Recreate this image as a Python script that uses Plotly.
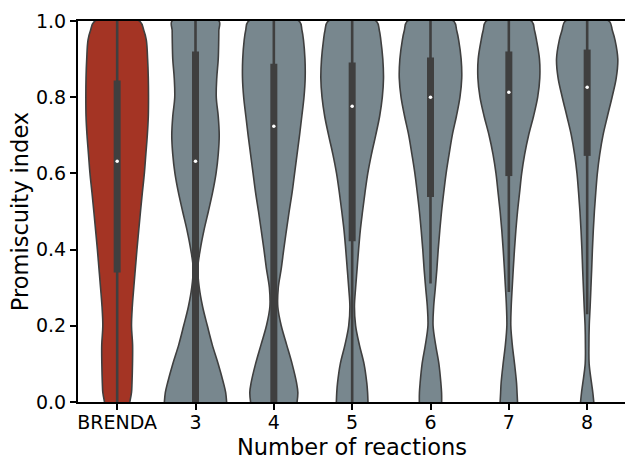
import plotly.graph_objects as go

# Categories (x tick labels)
categories = ["BRENDA", "3", "4", "5", "6", "7", "8"]
x_title = "Number of reactions"
y_title = "Promiscuity index"

# Promiscuity-index grid at which violin widths were read
y_grid = [0.0, 0.025, 0.05, 0.1, 0.15, 0.2, 0.25, 0.3, 0.35, 0.4, 0.45, 0.5,
          0.55, 0.6, 0.65, 0.7, 0.75, 0.8, 0.85, 0.9, 0.95, 0.975, 1.0]

# Relative KDE density (violin half-width, arbitrary units) per category
dens_brenda = [12.8, 14.5, 15.0, 15.5, 15.6, 14.5, 15.3, 16.8, 18.4, 20.0, 21.8, 23.6,
               25.5, 27.5, 29.0, 30.5, 31.5, 31.7, 31.5, 30.8, 29.5, 27.0, 22.5]
dens_3 = [31.5, 30.5, 28.3, 23.0, 17.0, 12.0, 7.2, 3.8, 2.3, 4.8, 8.5, 13.0,
          17.3, 20.8, 23.0, 24.0, 23.0, 21.0, 21.5, 23.0, 23.5, 23.6, 23.7]
dens_4 = [23.5, 24.3, 23.0, 18.5, 13.0, 7.5, 4.0, 4.5, 7.5, 10.0, 12.7, 15.5,
          18.5, 21.0, 23.5, 26.0, 28.3, 30.5, 31.7, 31.5, 30.0, 28.5, 25.5]
dens_5 = [16.0, 15.6, 14.8, 12.0, 7.3, 3.5, 2.3, 3.5, 5.0, 6.5, 8.2, 10.5,
          13.0, 15.8, 19.5, 23.8, 27.8, 30.5, 31.7, 31.0, 29.0, 27.5, 24.2]
dens_6 = [11.3, 11.2, 10.5, 8.5, 5.2, 2.6, 3.2, 4.9, 6.5, 7.8, 9.4, 11.2,
          13.4, 15.8, 18.8, 22.0, 26.2, 29.8, 31.6, 31.0, 28.5, 26.5, 23.3]
dens_7 = [8.8, 8.3, 7.8, 5.8, 3.5, 2.0, 2.4, 3.4, 4.5, 5.7, 7.1, 8.8,
          10.9, 13.0, 16.0, 20.0, 25.0, 29.2, 31.3, 31.0, 28.0, 26.0, 22.8]
dens_8 = [6.7, 5.7, 4.4, 2.0, 1.8, 2.1, 3.0, 3.8, 4.6, 5.3, 6.2, 7.3,
          8.7, 10.3, 12.7, 16.0, 20.5, 25.2, 29.4, 31.0, 28.2, 25.5, 22.0]
densities = [dens_brenda, dens_3, dens_4, dens_5, dens_6, dens_7, dens_8]

# Inner box statistics
q1 = [0.34, 0.0, 0.0, 0.422, 0.538, 0.593, 0.646]
median = [0.632, 0.632, 0.724, 0.776, 0.80, 0.813, 0.826]
q3 = [0.844, 0.920, 0.888, 0.891, 0.904, 0.920, 0.925]
whisker_lo = [0.0, 0.0, 0.0, 0.0, 0.311, 0.289, 0.23]
whisker_hi = [1.0, 1.0, 1.0, 1.0, 1.0, 1.0, 1.0]

fill_colors = ["#a43424"] + ["#78878e"] * 6
edge = "#3f3f3f"
half_width = 0.4
dmax = max(max(d) for d in densities)

fig = go.Figure()
for i, d in enumerate(densities):
    xs = [i + half_width * v / dmax for v in d] + [i - half_width * v / dmax for v in reversed(d)]
    ys = list(y_grid) + list(reversed(y_grid))
    fig.add_trace(go.Scatter(x=xs, y=ys, mode="lines", fill="toself",
                             fillcolor=fill_colors[i],
                             line=dict(color=edge, width=1.6, shape="spline", smoothing=1.0),
                             hoverinfo="skip", showlegend=False))
    # whisker
    fig.add_trace(go.Scatter(x=[i, i], y=[whisker_lo[i], whisker_hi[i]], mode="lines",
                             line=dict(color=edge, width=2.6), hoverinfo="skip", showlegend=False))
    # box
    fig.add_trace(go.Scatter(x=[i, i], y=[q1[i], q3[i]], mode="lines",
                             line=dict(color=edge, width=7), hoverinfo="skip", showlegend=False))
    # median
    fig.add_trace(go.Scatter(x=[i], y=[median[i]], mode="markers",
                             marker=dict(color="white", size=3.5, line=dict(width=0)),
                             hoverinfo="skip", showlegend=False))

font = "DejaVu Sans"
tick_size = 19
title_size = 22.5
fig.update_layout(
    width=625, height=455,
    margin=dict(l=78, r=0, t=21, b=53),
    plot_bgcolor="white", paper_bgcolor="white",
    font=dict(family=font, color="black", size=tick_size),
    showlegend=False,
)
fig.add_annotation(text=x_title, xref="paper", yref="paper", x=0.5, y=0,
                   xanchor="center", yanchor="bottom", yshift=-60, showarrow=False,
                   font=dict(size=title_size, family=font, color="black"))
fig.update_xaxes(
    range=[-0.5, 6.483], tickmode="array", tickvals=list(range(len(categories))),
    ticktext=categories, ticks="outside", ticklen=6, tickwidth=1.5, tickcolor="black",
    showline=True, linecolor="black", linewidth=2, mirror=True,
    showgrid=False, zeroline=False, automargin=False, ticklabelstandoff=-4,
    tickfont=dict(size=tick_size, family=font),
)
fig.update_yaxes(
    range=[0, 1], tickmode="array", tickvals=[0, 0.2, 0.4, 0.6, 0.8, 1.0],
    tickformat=".1f", ticks="outside", ticklen=6, tickwidth=1.5, tickcolor="black",
    showline=True, linecolor="black", linewidth=2, mirror=False,
    showgrid=False, zeroline=False, automargin=False,
    title=dict(text=y_title, font=dict(size=title_size, family=font), standoff=1),
    tickfont=dict(size=tick_size, family=font),
)

fig.write_html("out.html")
